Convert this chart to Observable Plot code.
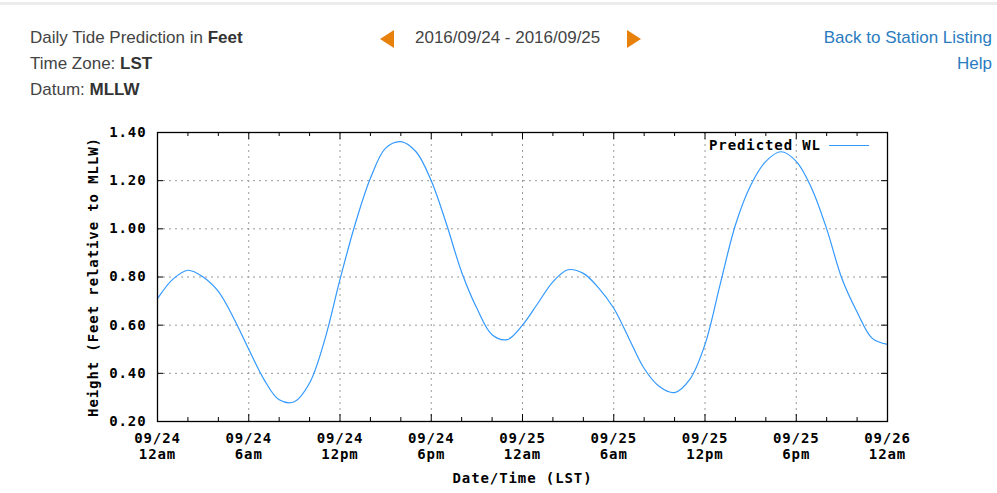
<!DOCTYPE html>
<html>
<head>
<meta charset="utf-8">
<script src="https://cdn.jsdelivr.net/npm/d3@7"></script>
<script src="https://cdn.jsdelivr.net/npm/@observablehq/plot@0.6"></script>
<style>
  html, body { margin: 0; padding: 0; background: #fff; }
  #page { position: relative; width: 997px; height: 493px; overflow: hidden; font-family: "Liberation Sans", Arial, sans-serif; color: #444; }
  #topbar { position: absolute; left: 0; top: 2px; width: 997px; height: 3px; background: #ececec; }
  .hd { position: absolute; font-size: 17px; line-height: 20px; white-space: nowrap; }
  .hd b { color: #333; }
  .link { color: #2a7cbf; }
  .tri { position: absolute; width: 0; height: 0; border-top: 9px solid transparent; border-bottom: 9px solid transparent; }
  #chart { position: absolute; left: 0; top: 110px; }
  #chart svg text { letter-spacing: 0.9px; }
  #legend { position: absolute; left: 0; top: 0; font-family: "DejaVu Sans Mono", monospace; font-weight: bold; font-size: 14px; letter-spacing: 0.9px; color: #000; }
</style>
</head>
<body>
<div id="page">
  <div id="topbar"></div>
  <div class="hd" style="left:30px; top:28px;">Daily Tide Prediction in <b>Feet</b></div>
  <div class="hd" style="left:30px; top:54px;">Time Zone: <b>LST</b></div>
  <div class="hd" style="left:30px; top:80px;">Datum: <b>MLLW</b></div>
  <div class="tri" style="left:380px; top:30px; border-right: 14px solid #e8800c;"></div>
  <div class="hd" style="left:415px; top:28px; color:#444;">2016/09/24 - 2016/09/25</div>
  <div class="tri" style="left:627px; top:30px; border-left: 14px solid #e8800c;"></div>
  <div class="hd link" style="right:5px; top:28px;">Back to Station Listing</div>
  <div class="hd link" style="right:5px; top:54px;">Help</div>
  <div id="chart"></div>
  <div id="legend">
    <span style="position:absolute; left:709px; top:137px; white-space:nowrap;">Predicted WL</span>
    <span style="position:absolute; left:829px; top:145px; width:40px; height:0; border-top:1.2px solid #3399ff;"></span>
  </div>
</div>
<script>
// Hourly predicted water level (ft, MLLW), 2016-09-24 00:00 to 2016-09-26 00:00 LST
const hoursFromStart = d3.range(0, 49);
const heights = [
  0.71, 0.79, 0.828, 0.80, 0.74, 0.63, 0.50, 0.375, 0.29, 0.282,
  0.36, 0.54, 0.79, 1.02, 1.21, 1.335, 1.362, 1.32, 1.20, 1.02,
  0.82, 0.67, 0.56, 0.54, 0.60, 0.69, 0.78, 0.83, 0.815, 0.755,
  0.67, 0.545, 0.42, 0.345, 0.32, 0.375, 0.52, 0.77, 1.016, 1.18,
  1.28, 1.32, 1.28, 1.17, 1.00, 0.794, 0.655, 0.545, 0.52
];
const yTicks = [0.20, 0.40, 0.60, 0.80, 1.00, 1.20, 1.40];
const xTickHours = [0, 6, 12, 18, 24, 30, 36, 42, 48];
const xTickDays = ["09/24", "09/24", "09/24", "09/24", "09/25", "09/25", "09/25", "09/25", "09/26"];
const xTickTimes = ["12am", "6am", "12pm", "6pm", "12am", "6am", "12pm", "6pm", "12am"];
const minorHours = [2, 4, 8, 10, 14, 16, 20, 22, 26, 28, 32, 34, 38, 40, 44, 46];
const seriesName = "Predicted WL";
const yTitle = "Height (Feet relative to MLLW)";
const xTitle = "Date/Time (LST)";

const start = Date.UTC(2016, 8, 24, 0);
const toDate = h => new Date(start + h * 3600e3);
const data = hoursFromStart.map((h, i) => ({t: toDate(h), v: heights[i]}));
const majorX = xTickHours.map(toDate);
const minorX = minorHours.map(toDate);
const labelFor = d => {
  const i = majorX.findIndex(m => +m === +d);
  return xTickDays[i] + "\n" + xTickTimes[i];
};

const W = 997, H = 383;
const mL = 157, mR = 110, mT = 22, mB = 72;
const iw = W - mL - mR, ih = H - mT - mB;
const grid = {stroke: "#9a9a9a", strokeDasharray: "2,4", strokeWidth: 1};

const chart = Plot.plot({
  width: W,
  height: H,
  marginLeft: mL,
  marginRight: mR,
  marginTop: mT,
  marginBottom: mB,
  style: {fontFamily: "'DejaVu Sans Mono', monospace", fontSize: "14px", fontWeight: "bold", color: "#000", background: "#fff"},
  x: {type: "utc", domain: [toDate(0), toDate(48)]},
  y: {domain: [0.2, 1.4]},
  marks: [
    Plot.ruleX(majorX.slice(1, -1), grid),
    Plot.ruleY(yTicks.slice(1, -1), grid),
    Plot.line(data, {x: "t", y: "v", stroke: "#3399ff", strokeWidth: 1.2, curve: "catmull-rom"}),
    Plot.frame({stroke: "#000", strokeWidth: 1.3}),
    Plot.tickX(majorX, {stroke: "#000", insetTop: ih - 7}),
    Plot.tickX(majorX, {stroke: "#000", insetBottom: ih - 7}),
    Plot.tickX(minorX, {stroke: "#000", insetTop: ih - 4}),
    Plot.tickX(minorX, {stroke: "#000", insetBottom: ih - 4}),
    Plot.tickY(yTicks, {stroke: "#000", insetRight: iw - 6}),
    Plot.tickY(yTicks, {stroke: "#000", insetLeft: iw - 6}),
    Plot.axisY({ticks: yTicks, tickFormat: d => d.toFixed(2), tickSize: 0, tickPadding: 11, label: null}),
    Plot.axisX({ticks: majorX, tickFormat: labelFor, tickSize: 0, tickPadding: 10, label: null, lineHeight: 1.15}),
    Plot.text([yTitle], {text: d => d, frameAnchor: "left", textAnchor: "middle", lineAnchor: "middle", rotate: -90, dx: -64}),
    Plot.text([xTitle], {text: d => d, frameAnchor: "bottom", dy: 61})
  ]
});
document.getElementById("chart").appendChild(chart);
</script>
</body>
</html>
